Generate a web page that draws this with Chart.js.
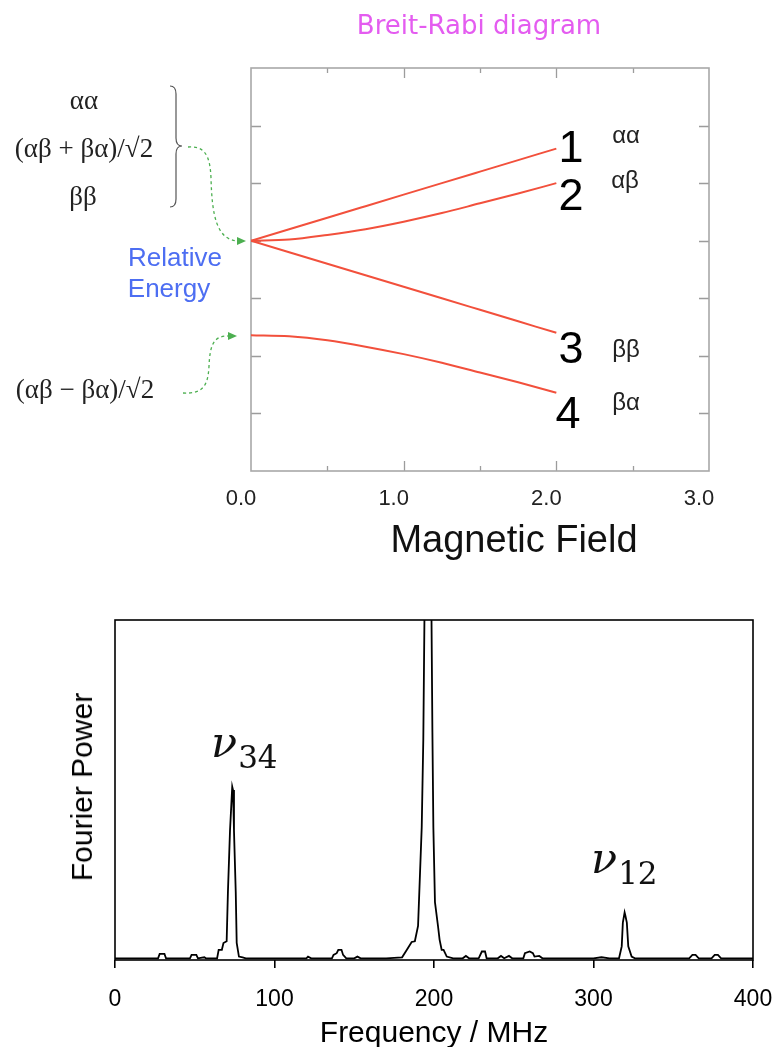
<!DOCTYPE html>
<html>
<head>
<meta charset="utf-8">
<title>Breit-Rabi diagram</title>
<script src="https://cdn.jsdelivr.net/npm/chart.js@4.4.1/dist/chart.umd.min.js"></script>
<style>
  body { margin: 0; background: #fff; }
  #page { position: relative; width: 778px; height: 1047px; overflow: hidden; }
  #topChart { position: absolute; left: 0; top: 0; }
  #bottomChart { position: absolute; left: 0; top: 570px; }
  #marks { position: absolute; left: 0; top: 0; }
  .lbl { position: absolute; white-space: nowrap; line-height: 1; transform: translate(-50%, -50%); }
  .sans { font-family: "Liberation Sans", Arial, sans-serif; }
  .serif { font-family: "Liberation Serif", "Times New Roman", serif; color: #222; }
  .nu { position: absolute; white-space: nowrap; line-height: 1; font-family: "DejaVu Serif", serif; color: #111; }
</style>
</head>
<body>
<div id="page">
  <canvas id="topChart" width="778" height="570"></canvas>
  <canvas id="bottomChart" width="778" height="482"></canvas>
  <svg id="marks" width="778" height="560">
    <!-- brace -->
    <path d="M170,86 Q176,86 176,94 L176,138 Q176,146 182,146 Q176,146 176,154 L176,199 Q176,207 170,207"
          fill="none" stroke="#555" stroke-width="1.2"/>
    <!-- green dashed arrows -->
    <path d="M188,147 C204,146 210,154 211,178 C212,214 216,240 238,241"
          fill="none" stroke="#4caf50" stroke-width="1.3" stroke-dasharray="3,3"/>
    <polygon points="237,237 246,241 237,245" fill="#4caf50"/>
    <path d="M183,393 C203,394 208,386 209,366 C210,344 214,336 228,336"
          fill="none" stroke="#4caf50" stroke-width="1.3" stroke-dasharray="3,3"/>
    <polygon points="228,332 237,336 228,340" fill="#4caf50"/>
  </svg>
</div>
<script>
// ---- Breit-Rabi levels ----
const fieldValues = [0, 0.25, 0.5, 0.75, 1.0, 1.25, 1.5, 1.75, 2.0];
const level1 = [4.0, 4.2, 4.4, 4.6, 4.8, 5.0, 5.2, 5.4, 5.6];
const level2 = [4.0, 4.02, 4.1, 4.2, 4.33, 4.48, 4.65, 4.82, 5.0];
const level3 = [4.0, 3.8, 3.6, 3.4, 3.2, 3.0, 2.8, 2.6, 2.4];
const level4 = [2.36, 2.34, 2.27, 2.16, 2.03, 1.88, 1.71, 1.54, 1.36];
const fieldTicks = ["0.0", "1.0", "2.0", "3.0"];
const fieldMin = 0, fieldMax = 3, minorStep = 0.5;
const energyMin = 0, energyMax = 7;

// ---- Fourier spectrum ----
const freqMHz = [0, 10, 27, 28, 31, 32, 47, 48, 51, 52, 56, 57, 64, 65, 67, 68, 70, 70.8, 72.1, 73.5, 74,
  74.6, 75.7, 76.3, 77.7, 80, 82, 90, 100, 120, 121, 123, 136, 137, 139, 140, 142, 143, 145, 150, 152, 154,
  170, 180, 183, 186, 188, 190, 192.3, 193.3, 194.4, 195.5, 197, 198.1, 199, 199.6, 200.6, 202.5, 203.5,
  204.8, 206, 208, 212, 218, 220, 222, 228, 230, 232, 233, 240, 242, 244, 247, 249, 256, 257, 260, 262,
  263, 266, 268, 280, 290, 300, 305, 310, 316, 317.7, 318.4, 319.5, 320, 320.9, 321.8, 323.9, 326, 340,
  360, 362, 364, 366, 374, 376, 378, 380, 400];
const fourierPower = [0.005, 0.005, 0.005, 0.018, 0.018, 0.005, 0.005, 0.015, 0.015, 0.005, 0.008, 0.005,
  0.005, 0.03, 0.03, 0.05, 0.055, 0.2, 0.38, 0.51, 0.5, 0.38, 0.2, 0.05, 0.01, 0.008, 0.005, 0.005, 0.005,
  0.005, 0.01, 0.005, 0.005, 0.015, 0.02, 0.03, 0.03, 0.015, 0.005, 0.005, 0.01, 0.005, 0.005, 0.008, 0.03,
  0.053, 0.055, 0.1, 0.39, 0.65, 1.2, 1.8, 1.8, 1.2, 0.67, 0.39, 0.17, 0.1, 0.06, 0.03, 0.03, 0.01, 0.005,
  0.005, 0.012, 0.005, 0.005, 0.025, 0.025, 0.005, 0.005, 0.012, 0.005, 0.012, 0.005, 0.005, 0.02, 0.025,
  0.02, 0.01, 0.012, 0.005, 0.005, 0.005, 0.005, 0.008, 0.005, 0.005, 0.04, 0.11, 0.14, 0.13, 0.11, 0.04,
  0.01, 0.005, 0.005, 0.005, 0.015, 0.015, 0.005, 0.005, 0.015, 0.015, 0.005, 0.005];
const freqTicks = [0, 100, 200, 300, 400];

const sans = "'Liberation Sans', Arial, sans-serif";
const page = document.getElementById("page");

function pts(xs, ys) {
  return xs.map((x, i) => ({ x: x, y: ys[i] }));
}

function addLabel(text, x, y, cls, style) {
  const d = document.createElement("div");
  d.className = "lbl " + cls;
  d.textContent = text;
  d.style.left = x + "px";
  d.style.top = y + "px";
  Object.assign(d.style, style || {});
  page.appendChild(d);
}

// box + inward ticks for the Breit-Rabi panel
const innerTicks = {
  id: "innerTicks",
  beforeDatasetsDraw(chart) {
    const { ctx, chartArea: a, scales: { x, y } } = chart;
    ctx.save();
    ctx.strokeStyle = "#9c9c9c";
    ctx.lineWidth = 1.3;
    ctx.beginPath();
    for (let v = fieldMin + minorStep; v < fieldMax; v += minorStep) {
      const px = Math.round(x.getPixelForValue(v)) + 0.5;
      const len = Number.isInteger(v) ? 10 : 5;
      ctx.moveTo(px, a.bottom); ctx.lineTo(px, a.bottom - len);
      ctx.moveTo(px, a.top); ctx.lineTo(px, a.top + len);
    }
    for (let v = energyMin + 1; v < energyMax; v++) {
      const py = Math.round(y.getPixelForValue(v)) + 0.5;
      ctx.moveTo(a.left, py); ctx.lineTo(a.left + 10, py);
      ctx.moveTo(a.right, py); ctx.lineTo(a.right - 10, py);
    }
    ctx.stroke();
    ctx.strokeStyle = "#a8a8a8";
    ctx.lineWidth = 1.6;
    ctx.strokeRect(a.left, a.top, a.right - a.left, a.bottom - a.top);
    ctx.restore();
  }
};

const blackBox = {
  id: "blackBox",
  afterDraw(chart) {
    const { ctx, chartArea: a } = chart;
    ctx.save();
    ctx.strokeStyle = "#000";
    ctx.lineWidth = 1.6;
    ctx.strokeRect(a.left, a.top, a.right - a.left, a.bottom - a.top);
    ctx.restore();
  }
};

function levelSet(data) {
  return {
    data: pts(fieldValues, data),
    borderColor: "#f2503c",
    borderWidth: 2,
    pointRadius: 0,
    cubicInterpolationMode: "monotone"
  };
}

new Chart(document.getElementById("topChart"), {
  type: "line",
  data: { datasets: [levelSet(level1), levelSet(level2), levelSet(level3), levelSet(level4)] },
  options: {
    responsive: false,
    animation: false,
    layout: { padding: { left: 251, right: 69, top: 68, bottom: 8 } },
    plugins: { legend: { display: false }, tooltip: { enabled: false } },
    scales: {
      x: {
        type: "linear", min: fieldMin, max: fieldMax,
        grid: { display: false, drawTicks: false },
        border: { display: false },
        ticks: {
          stepSize: 1, padding: 15, labelOffset: -10, color: "#222",
          font: { family: sans, size: 22 },
          callback: v => fieldTicks[Math.round(v)]
        },
        afterFit(scale) { scale.height = 91; }
      },
      y: { type: "linear", min: energyMin, max: energyMax, display: false }
    }
  },
  plugins: [innerTicks]
});

new Chart(document.getElementById("bottomChart"), {
  type: "line",
  data: {
    datasets: [{
      data: pts(freqMHz, fourierPower),
      borderColor: "#000",
      borderWidth: 1.8,
      pointRadius: 0,
      tension: 0
    }]
  },
  options: {
    responsive: false,
    animation: false,
    layout: { padding: { left: 115, right: 25, top: 50, bottom: 0 } },
    plugins: { legend: { display: false }, tooltip: { enabled: false } },
    scales: {
      x: {
        type: "linear", min: freqTicks[0], max: freqTicks[freqTicks.length - 1],
        afterBuildTicks(scale) { scale.ticks = freqTicks.map(v => ({ value: v })); },
        grid: { display: true, drawOnChartArea: false, drawTicks: true, tickLength: 8, color: "#000", lineWidth: 1.6 },
        border: { display: false },
        ticks: { padding: 18, color: "#000", font: { family: sans, size: 23 } },
        title: {
          display: true, text: "Frequency / MHz", color: "#000",
          font: { family: sans, size: 30 }, padding: 0
        },
        afterFit(scale) {
          scale.height = 92;
          scale.paddingLeft = 0;
          scale.paddingRight = 0;
        }
      },
      y: { type: "linear", min: 0, max: 1, display: false }
    }
  },
  plugins: [blackBox]
});

// ---- annotations ----
addLabel("Breit-Rabi diagram", 479, 25, "", { fontFamily: "'DejaVu Sans', sans-serif", fontSize: "26px", color: "#e45cf0" });
addLabel("Magnetic Field", 514, 539, "sans", { fontSize: "38px", color: "#111" });

addLabel("1", 571, 146, "sans", { fontSize: "45px", color: "#000" });
addLabel("2", 571, 194, "sans", { fontSize: "45px", color: "#000" });
addLabel("3", 571, 347, "sans", { fontSize: "45px", color: "#000" });
addLabel("4", 568, 412, "sans", { fontSize: "45px", color: "#000" });
addLabel("αα", 626, 135, "sans", { fontSize: "24px", color: "#222" });
addLabel("αβ", 625, 180, "sans", { fontSize: "24px", color: "#222" });
addLabel("ββ", 626, 349, "sans", { fontSize: "24px", color: "#222" });
addLabel("βα", 626, 402, "sans", { fontSize: "24px", color: "#222" });

addLabel("αα", 84, 100, "serif", { fontSize: "27px" });
addLabel("(αβ + βα)/√2", 84, 148, "serif", { fontSize: "27px" });
addLabel("ββ", 83, 196, "serif", { fontSize: "27px" });
addLabel("(αβ − βα)/√2", 85, 389, "serif", { fontSize: "27px" });

addLabel("Relative", 175, 257, "sans", { fontSize: "26px", color: "#4d6ef2" });
addLabel("Energy", 169, 288, "sans", { fontSize: "26px", color: "#4d6ef2" });

addLabel("Fourier Power", 82, 787, "sans", { fontSize: "30px", color: "#000", transform: "translate(-50%, -50%) rotate(-90deg)" });

function addNu(sub, x, y) {
  const n = document.createElement("div");
  n.className = "nu";
  n.innerHTML = '<span style="font-style:italic;font-size:43px">ν</span>' +
    '<span style="font-size:31px;position:relative;top:11px;margin-left:1px">' + sub + "</span>";
  n.style.left = x + "px";
  n.style.top = y + "px";
  page.appendChild(n);
}
addNu("34", 211, 721);
addNu("12", 591, 837);
</script>
</body>
</html>
